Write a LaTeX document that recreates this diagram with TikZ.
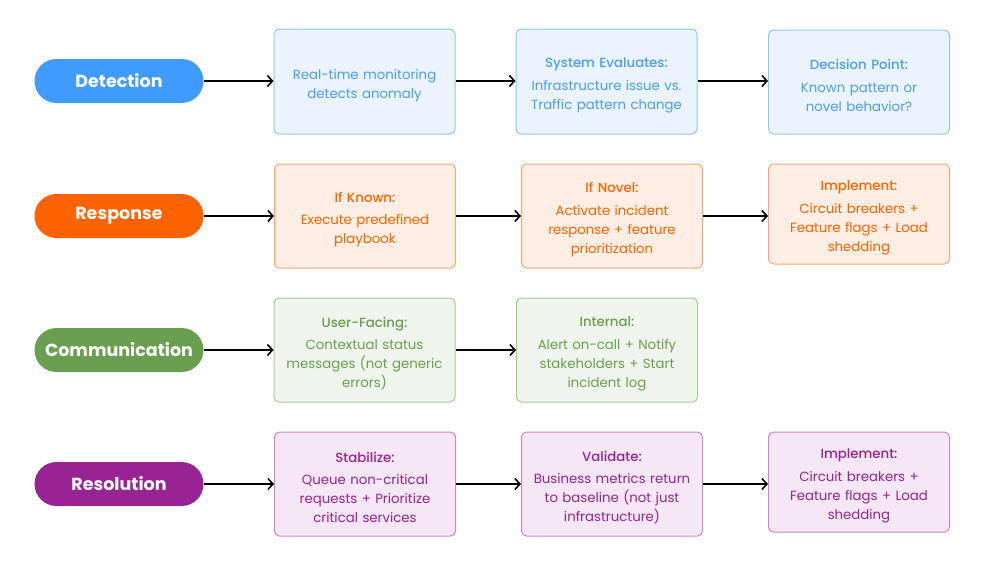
\documentclass[tikz,border=0pt]{standalone}
\usepackage{fontspec}
\setmainfont{Poppins}
\newfontfamily\medf{Poppins Medium}
\usetikzlibrary{arrows.meta}
\definecolor{bpill}{HTML}{3F9BFD}
\definecolor{bfill}{HTML}{EAF3FE}
\definecolor{bline}{HTML}{92C3FA}
\definecolor{btext}{HTML}{4A9EF5}
\definecolor{opill}{HTML}{FF6200}
\definecolor{ofill}{HTML}{FFEEE3}
\definecolor{oline}{HTML}{FFA574}
\definecolor{otext}{HTML}{FF6200}
\definecolor{gpill}{HTML}{6A9E50}
\definecolor{gfill}{HTML}{EFF5EC}
\definecolor{gline}{HTML}{A9C99A}
\definecolor{gtext}{HTML}{6A9E50}
\definecolor{ppill}{HTML}{982493}
\definecolor{pfill}{HTML}{F5E7F5}
\definecolor{pline}{HTML}{C98BC7}
\definecolor{ptext}{HTML}{982493}
\tikzset{
  pill/.style={rounded corners=22pt, minimum width=169pt, minimum height=44pt, inner sep=0pt,
    text=white, font=\fontsize{17.5}{20}\selectfont\bfseries},
  card/.style={draw, line width=1pt, rounded corners=5pt, minimum width=181pt, inner sep=0pt,
    align=center, text width=178pt, font=\fontsize{13.3}{19}\selectfont,
    execute at begin node={\rule{0pt}{17.5pt}}},
  flow/.style={line width=1.6pt, -{Straight Barb[length=5pt,width=11pt,line width=1.6pt]}},
}
\newcommand{\ttl}[1]{{\fontsize{13.3}{19}\selectfont\medf #1}\\[3.5pt]}
\begin{document}
\begin{tikzpicture}[x=1pt,y=-1pt]
\useasboundingbox (0,0) rectangle (985,566);
% row 1
\node[pill, fill=bpill] (p1) at (119,81) {Detection};
\node[card, draw=bline, fill=bfill, text=btext, minimum height=105pt] (a1) at (364.5,81.5) {Real-time monitoring\\detects anomaly};
\node[card, draw=bline, fill=bfill, text=btext, minimum height=105pt] (a2) at (606.5,81.5) {\ttl{System Evaluates:}Infrastructure issue vs.\\Traffic pattern change};
\node[card, draw=bline, fill=bfill, text=btext, minimum height=104pt] (a3) at (859,82) {\ttl{Decision Point:}Known pattern or\\novel behavior?};
% row 2
\node[pill, fill=opill] (p2) at (119,216) {Response};
\node[card, draw=oline, fill=ofill, text=otext, minimum height=104pt] (b1) at (365,216) {\ttl{If Known:}Execute predefined\\playbook};
\node[card, draw=oline, fill=ofill, text=otext, minimum height=104pt] (b2) at (612,216) {\ttl{If Novel:}Activate incident\\response + feature\\prioritization};
\node[card, draw=oline, fill=ofill, text=otext, minimum height=100pt] (b3) at (859,214) {\ttl{Implement:}Circuit breakers +\\Feature flags + Load\\shedding};
% row 3
\node[pill, fill=gpill] (p3) at (119,350) {Communication};
\node[card, draw=gline, fill=gfill, text=gtext, minimum height=104pt] (c1) at (364.5,350) {\ttl{User-Facing:}Contextual status\\messages (not generic\\errors)};
\node[card, draw=gline, fill=gfill, text=gtext, minimum height=104pt] (c2) at (607,350) {\ttl{Internal:}Alert on-call + Notify\\stakeholders + Start\\incident log};
% row 4
\node[pill, fill=ppill] (p4) at (119,484) {Resolution};
\node[card, draw=pline, fill=pfill, text=ptext, minimum height=104pt] (d1) at (365,484) {\ttl{Stabilize:}Queue non-critical\\requests + Prioritize\\critical services};
\node[card, draw=pline, fill=pfill, text=ptext, minimum height=104pt] (d2) at (612,484) {\ttl{Validate:}Business metrics return\\to baseline (not just\\infrastructure)};
\node[card, draw=pline, fill=pfill, text=ptext, minimum height=100pt] (d3) at (859,482) {\ttl{Implement:}Circuit breakers +\\Feature flags + Load\\shedding};
% connectors
\draw[flow] (p1.east) -- (p1.east -| a1.west);
\draw[flow] (a1.east |- p1) -- (a2.west |- p1);
\draw[flow] (a2.east |- p1) -- (a3.west |- p1);
\draw[flow] (p2.east) -- (p2.east -| b1.west);
\draw[flow] (b1.east |- p2) -- (b2.west |- p2);
\draw[flow] (b2.east |- p2) -- (b3.west |- p2);
\draw[flow] (p3.east) -- (p3.east -| c1.west);
\draw[flow] (c1.east |- p3) -- (c2.west |- p3);
\draw[flow] (p4.east) -- (p4.east -| d1.west);
\draw[flow] (d1.east |- p4) -- (d2.west |- p4);
\draw[flow] (d2.east |- p4) -- (d3.west |- p4);
\end{tikzpicture}
\end{document}
